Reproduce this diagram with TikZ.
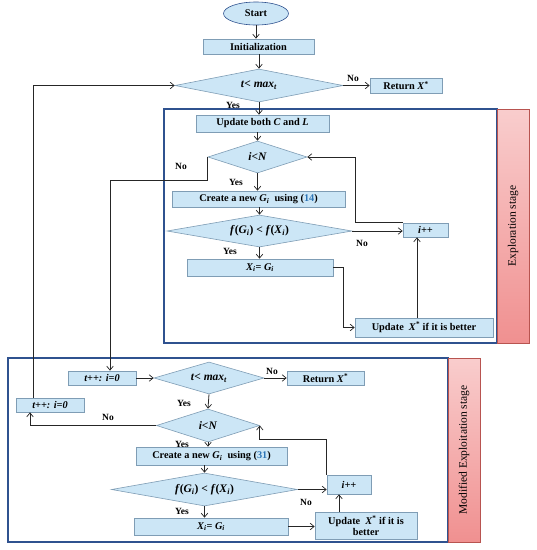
\documentclass[tikz,border=0pt]{standalone}
\usepackage{fontspec}
\setmainfont{Liberation Serif}
\usetikzlibrary{shapes.geometric,arrows.meta}
\definecolor{boxfill}{HTML}{CCE6F6}
\definecolor{boxline}{HTML}{7F9DB5}
\definecolor{framecol}{HTML}{2F528F}
\definecolor{pinktop}{HTML}{F9CDCD}
\definecolor{pinkbot}{HTML}{F09090}
\definecolor{pinkline}{HTML}{B85450}
\definecolor{eqblue}{HTML}{2E75B6}
\newcommand{\mi}[1]{\textbf{\textit{#1}}}
\begin{document}
\begin{tikzpicture}[x=1pt,y=-1pt,
  box/.style={rectangle,draw=boxline,fill=boxfill,line width=0.6pt,inner sep=0pt,
    font=\fontsize{10.3}{11}\selectfont\bfseries,align=center},
  dia/.style={diamond,aspect=5.5,draw=boxline,fill=boxfill,line width=0.6pt,inner sep=0pt,
    font=\fontsize{11.5}{13}\selectfont\bfseries},
  arr/.style={-{Straight Barb[length=4pt,width=6.5pt,line width=0.7pt]},line width=0.8pt,black!85},
  lab/.style={font=\fontsize{9.5}{10}\selectfont\bfseries,inner sep=0pt},
  frame/.style={draw=framecol,line width=1.4pt,fill=white},
  stage/.style={rotate=90,font=\fontsize{11.5}{13}\selectfont,inner sep=0pt}
]
\useasboundingbox (0,0) rectangle (537,550);
% frames
\draw[frame] (164,109) rectangle (497,343);
\shade[top color=pinktop,bottom color=pinkbot,draw=pinkline,line width=0.6pt] (497,109) rectangle (529,343);
\node[stage] (st1) at (513,226) {Exploration stage};
\draw[frame] (8,358) rectangle (448,542);
\shade[top color=pinktop,bottom color=pinkbot,draw=pinkline,line width=0.6pt] (448,358) rectangle (480,542);
\node[stage] (st2) at (464,450) {Modified Exploitation stage};

% upper nodes
\node[ellipse,draw=framecol,fill=boxfill,line width=0.6pt,minimum width=65pt,minimum height=23pt,inner sep=0pt,
  font=\fontsize{10.3}{11}\selectfont\bfseries] (start) at (256,13.5) {Start};
\node[box,minimum width=111pt,minimum height=15pt] (init) at (258.5,46.5) {Initialization};
\node[dia,aspect=5,minimum width=168pt,minimum height=33pt] (d1) at (259,85.5) {\mi{t}< \mi{max}\textsubscript{\mi{t}}};
\node[box,minimum width=72pt,minimum height=15pt] (ret1) at (406,85.5) {Return \mi{X}\textsuperscript{*}};
\node[box,minimum width=133pt,minimum height=17pt] (upd) at (262.5,123.5) {Update both \mi{C} and \mi{L}};
\node[dia,aspect=3.1,minimum width=99pt,minimum height=32pt] (d2) at (257.5,157) {\mi{i<N}};
\node[box,minimum width=173pt,minimum height=16pt] (create1) at (258.5,199) {Create a new \mi{G}\textsubscript{\mi{i}}\ \ using (\textcolor{eqblue}{14})};
\node[dia,minimum width=185pt,minimum height=32pt] (d3) at (259.5,231) {\mi{f}(\mi{G}\textsubscript{\mi{i}}) < \mi{f}(\mi{X}\textsubscript{\mi{i}})};
\node[box,minimum width=45pt,minimum height=14pt] (ipp1) at (425.5,230) {\mi{i++}};
\node[box,minimum width=146pt,minimum height=17pt] (xg1) at (260,267.5) {\mi{X}\textsubscript{\mi{i}}= \mi{G}\textsubscript{\mi{i}}};
\node[box,minimum width=138pt,minimum height=19pt] (updx1) at (424,327.5) {Update\ \ \mi{X}\textsuperscript{*}\ if it is better};

% lower nodes
\node[box,minimum width=68pt,minimum height=14pt] (tpp1) at (102,378) {\mi{t++: i=0}};
\node[dia,aspect=3.4,minimum width=110pt,minimum height=32pt] (d4) at (209,378) {\mi{t}< \mi{max}\textsubscript{\mi{t}}};
\node[box,minimum width=77pt,minimum height=14pt] (ret2) at (325.5,378) {Return \mi{X}\textsuperscript{*}};
\node[box,minimum width=68pt,minimum height=14pt] (tpp2) at (50,405) {\mi{t++: i=0}};
\node[dia,aspect=3.1,minimum width=103pt,minimum height=33pt] (d5) at (208,425.5) {\mi{i<N}};
\node[box,minimum width=151pt,minimum height=18pt] (create2) at (211.5,456) {Create a new \mi{G}\textsubscript{\mi{i}}\ \ using (\textcolor{eqblue}{31})};
\node[dia,minimum width=186pt,minimum height=33pt] (d6) at (204.5,489.5) {\mi{f}(\mi{G}\textsubscript{\mi{i}}) < \mi{f}(\mi{X}\textsubscript{\mi{i}})};
\node[box,minimum width=44pt,minimum height=19pt] (ipp2) at (349,484.5) {\mi{i++}};
\node[box,minimum width=154pt,minimum height=17pt] (xg2) at (211,526.5) {\mi{X}\textsubscript{\mi{i}}= \mi{G}\textsubscript{\mi{i}}};
\node[box,minimum width=102pt,minimum height=27pt] (updx2) at (366,525.5) {Update\ \ \mi{X}\textsuperscript{*}\ if it is\\better};

% helper coordinates
\coordinate (c1) at (110,180);
\coordinate (y439) at (0,439);

% upper connectors
\draw[arr] (start.south) -- (start.south |- init.north);
\draw[arr] (d1.north |- init.south) -- (d1.north);
\draw[arr] (d1.east) -- (ret1.west);
\draw[arr] (d1.south) -- (d1.south |- upd.north);
\draw[arr] (d2.north |- upd.south) -- (d2.north);
\draw[arr] (d2.west) |- (c1) -- (c1 |- tpp1.north);
\draw[arr] (d2.south) -- (d2.south |- create1.north);
\draw[arr] (d3.north |- create1.south) -- (d3.north);
\draw[arr] (d3.east) -- (d3.east -| ipp1.west);
\draw[arr] (d3.south) -- (d3.south |- xg1.north);
\draw[arr] (xg1.east) -- ++(10,0) |- (updx1.west);
\draw[arr] ([xshift=-7pt]updx1.north) -- ([xshift=-7pt]updx1.north |- ipp1.south);
\draw[arr] (ipp1.north west) -- ++(-47,0) |- (d2.east);

% lower connectors
\draw[arr] (tpp1.east) -- (d4.west);
\draw[arr] (d4.east) -- (ret2.west);
\draw[arr] (d4.south) -- (d5.north);
\draw[arr] (d5.west) -| ([xshift=-20pt]tpp2.south);
\draw[arr] ([xshift=-17pt]tpp2.north) |- (d1.west);
\draw[arr] (d5.south) -- (d5.south |- create2.north);
\draw[arr] (d6.north |- create2.south) -- (d6.north);
\draw[arr] (d6.east) -- (d6.east -| ipp2.west);
\draw[arr] (d6.south) -- (d6.south |- xg2.north);
\draw[arr] (xg2.east) -- (xg2.east -| updx2.west);
\draw[arr] ([xshift=-27pt]updx2.north) -- ([xshift=-27pt]updx2.north |- ipp2.south);
\draw[arr] (ipp2.north west) |- (d5.east |- y439) -- (d5.east);

% labels
\node[lab] (n1) at (353,78) {No};
\node[lab] (y1) at (233,105) {Yes};
\node[lab] (n2) at (181,166) {No};
\node[lab] (y2) at (236,182) {Yes};
\node[lab] (n3) at (362,243) {No};
\node[lab] (y3) at (230,251) {Yes};
\node[lab] (n4) at (272,371) {No};
\node[lab] (y4) at (184,403) {Yes};
\node[lab] (n5) at (108,417) {No};
\node[lab] (y5) at (182,444) {Yes};
\node[lab] (n6) at (306,502) {No};
\node[lab] (y6) at (182,511) {Yes};
\end{tikzpicture}
\end{document}
